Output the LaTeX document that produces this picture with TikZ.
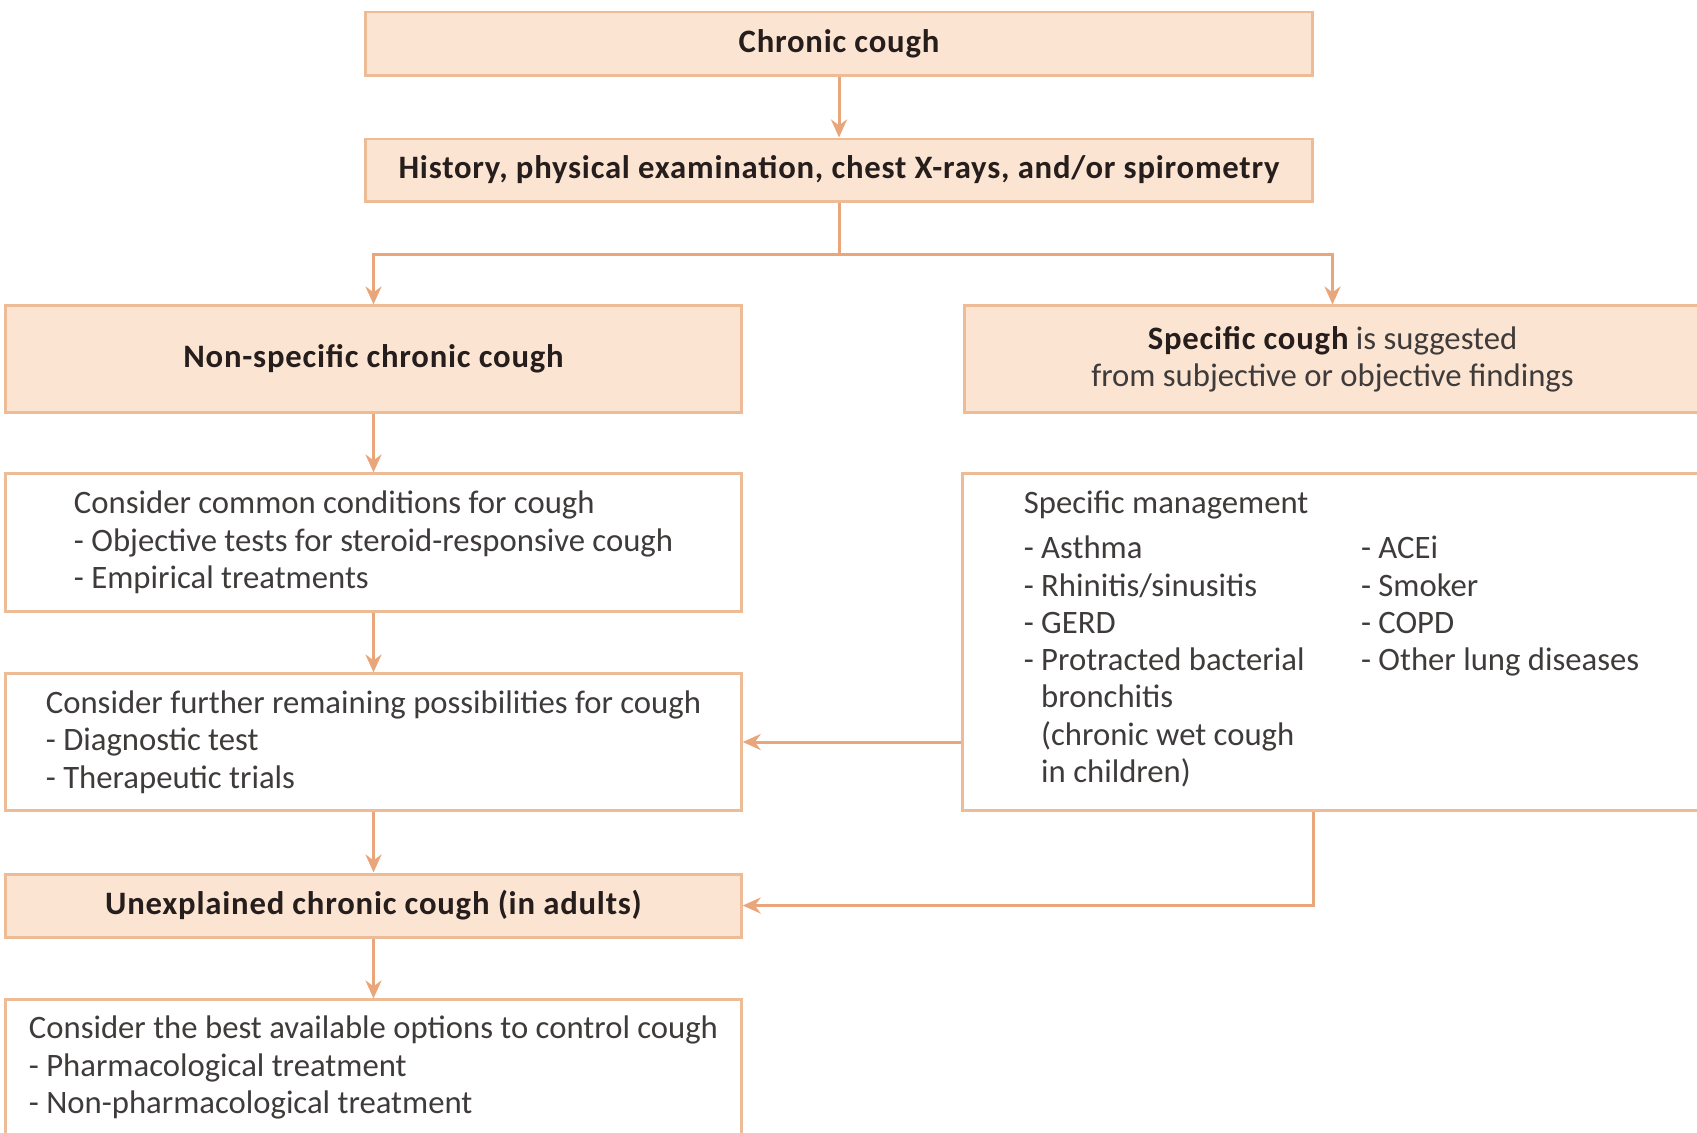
\documentclass[tikz,border=0pt]{standalone}
\usepackage{fontspec}
\setmainfont{Carlito}[BoldFeatures={LetterSpace=2.4}]
\usetikzlibrary{arrows.meta}
\definecolor{peach}{HTML}{FCE4D2}
\definecolor{peachline}{HTML}{EDBB96}
\definecolor{flowline}{HTML}{E9A67A}
\definecolor{txtgray}{HTML}{3E3B3A}
\definecolor{txtdark}{HTML}{251E1C}
\newcommand{\boxfont}{\fontsize{9.3}{10.6}\selectfont}
\tikzset{
  box/.style={draw=peachline, line width=0.85pt, inner sep=0pt, align=left,
    text=txtgray, font=\boxfont},
  fillbox/.style={box, fill=peach, align=center},
  headbox/.style={fillbox, text=txtdark, font=\bfseries\boxfont},
  flow/.style={draw=flowline, line width=0.85pt, -{Stealth[length=1.8mm,width=1.6mm]}}
}
\begin{document}
\begin{tikzpicture}[x=0.01cm, y=-0.01cm]
  \useasboundingbox (0,0) rectangle (1697,1132);
  \clip (0,0) rectangle (1697,1132);

  % top boxes
  \node[headbox, minimum width=9.46cm, minimum height=0.63cm] (chronic) at (839,43.5) {Chronic cough};
  \node[headbox, minimum width=9.46cm, minimum height=0.62cm] (hist) at (839,170) {History, physical examination, chest X-rays, and/or spirometry};

  % two branches
  \node[headbox, minimum width=7.35cm, minimum height=1.06cm] (nonspec) at (373.5,359) {Non-specific chronic cough};
  \node[fillbox, minimum width=7.35cm, minimum height=1.06cm] (spec) at (1332.5,359)
    {{\color{txtdark}\bfseries Specific cough} is suggested\\from subjective or objective findings};

  % left column
  \node[box, minimum width=7.35cm, minimum height=1.37cm] (common) at (373.5,542.5)
    {Consider common conditions for cough\\- Objective tests for steroid-responsive cough\\- Empirical treatments};
  \node[box, minimum width=7.35cm, minimum height=1.36cm] (further) at (373.5,742)
    {Consider further remaining possibilities for cough\\- Diagnostic test\\- Therapeutic trials};
  \node[headbox, minimum width=7.35cm, minimum height=0.63cm] (unexpl) at (373.5,905.5) {Unexplained chronic cough (in adults)};
  \node[box, minimum width=7.35cm, minimum height=1.35cm] (best) at (373.5,1067.5)
    {Consider the best available options to control cough\\- Pharmacological treatment\\- Non-pharmacological treatment};

  % right column
  \node[box, minimum width=7.37cm, minimum height=3.36cm] (mgmt) at (1331.5,642)
    {Specific management\\[3pt]
     \begin{tabular}{@{}p{3.37cm}@{}l@{}}
       - Asthma & - ACEi\\
       - Rhinitis/sinusitis & - Smoker\\
       - GERD & - COPD\\
       - Protracted bacterial & - Other lung diseases\\
       \phantom{- }bronchitis & \\
       \phantom{- }(chronic wet cough & \\
       \phantom{- }in children) & \\
     \end{tabular}};

  % connectors
  \draw[flow] (chronic) -- (hist);
  \draw[flow] (hist.south) -- ++(0,52) -| (nonspec.north);
  \draw[flow] (hist.south) -- ++(0,52) -| (spec.north);
  \draw[flow] (nonspec) -- (common);
  \draw[flow] (common) -- (further);
  \draw[flow] (further) -- (unexpl);
  \draw[flow] (unexpl) -- (best);
  \draw[flow] (mgmt.west |- further.east) -- (further.east);
  \draw[flow] (mgmt.south -| hist.east) |- (unexpl.east);
\end{tikzpicture}
\end{document}
